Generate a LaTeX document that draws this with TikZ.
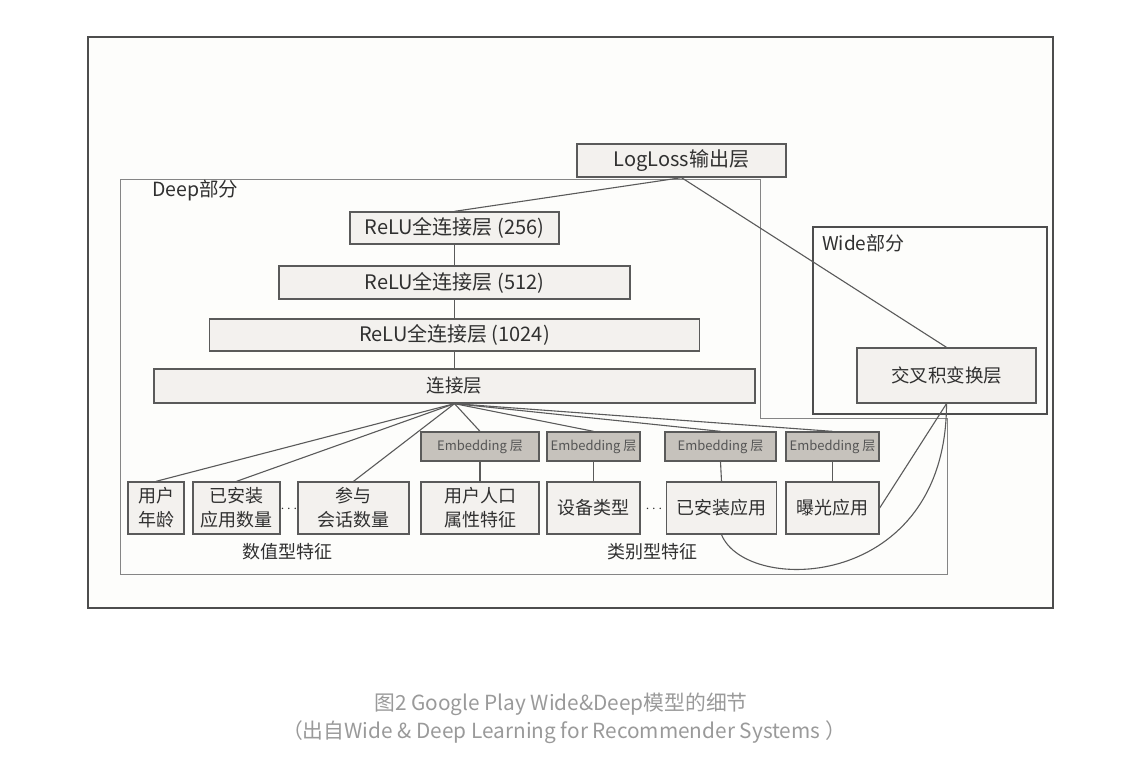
\documentclass[tikz,border=0pt]{standalone}
\usepackage{fontspec}
\setmainfont{Noto Sans CJK SC}
\definecolor{lc}{HTML}{5A5A5A}
\definecolor{boxfill}{HTML}{F3F1EE}
\definecolor{embfill}{HTML}{C6C2BC}
\definecolor{tc}{HTML}{303030}
\definecolor{etc}{HTML}{555555}
\definecolor{framec}{HTML}{4D4D4D}
\definecolor{deepc}{HTML}{858585}
\definecolor{capc}{HTML}{9A9A9A}
\definecolor{bgc}{HTML}{FDFDFB}
\begin{document}
\begin{tikzpicture}[x=1pt,y=-1pt,
  box/.style={draw=lc, fill=boxfill, line width=1.3pt, inner sep=0pt, text=tc,
    font=\fontsize{18}{24}\selectfont, align=center},
  layer/.style={box, font=\fontsize{20}{24}\selectfont},
  emb/.style={draw=lc, fill=embfill, line width=1.3pt, inner sep=0pt, text=etc,
    font=\fontsize{13}{15}\selectfont},
  conn/.style={draw=lc, line width=1.1pt},
  lbl/.style={text=tc, font=\fontsize{18}{20}\selectfont, inner sep=0pt},
  dotlbl/.style={text=tc, font=\fontsize{15}{17}\selectfont, inner sep=0pt},
  captext/.style={text=capc, font=\fontsize{20.8}{24}\selectfont, inner sep=0pt}]
\useasboundingbox (0,0) rectangle (1147,767);
\fill[white] (0,0) rectangle (1147,767);
% outer frame
\draw[draw=framec, line width=2.2pt, fill=bgc] (88,37) rectangle (1053,608);
% deep region
\draw[draw=deepc, line width=1pt] (120,180) -- (760,180) -- (760,418) -- (947,418) -- (947,574) -- (120,574) -- cycle;
% wide region
\draw[draw=framec, line width=2pt] (813,227) rectangle (1047,414);
\node[lbl, anchor=west, font=\fontsize{19.5}{22}\selectfont] (deeplbl) at (152,191) {Deep部分};
\node[lbl, anchor=west, font=\fontsize{19}{22}\selectfont] (widelbl) at (822,243) {Wide部分};
% layers
\node[layer, minimum width=209pt, minimum height=33pt] (log) at (681.5,160.5) {LogLoss输出层};
\node[layer, minimum width=209pt, minimum height=32pt] (r256) at (454.5,228) {ReLU全连接层 (256)};
\node[layer, minimum width=351pt, minimum height=33pt] (r512) at (454.5,282.5) {ReLU全连接层 (512)};
\node[layer, minimum width=490pt, minimum height=32pt] (r1024) at (454.5,335) {ReLU全连接层 (1024)};
\node[box, font=\fontsize{18.5}{24}\selectfont, minimum width=601pt, minimum height=34pt] (concat) at (454.5,386) {连接层};
\node[box, font=\fontsize{18.5}{24}\selectfont, minimum width=179pt, minimum height=55pt] (cross) at (946.5,375.5) {交叉积变换层};
% embeddings
\node[emb, minimum width=118pt, minimum height=29pt] (e1) at (480,446.5) {Embedding 层};
\node[emb, minimum width=93pt, minimum height=29pt] (e2) at (593.5,446.5) {Embedding 层};
\node[emb, minimum width=111pt, minimum height=29pt] (e3) at (720.5,446.5) {Embedding 层};
\node[emb, minimum width=93pt, minimum height=29pt] (e4) at (832.5,446.5) {Embedding 层};
% features
\node[box, minimum width=56pt, minimum height=52pt] (f1) at (156,508) {用户\\年龄};
\node[box, minimum width=87pt, minimum height=52pt] (f2) at (236.5,508) {已安装\\应用数量};
\node[box, minimum width=111pt, minimum height=52pt] (f3) at (353.5,508) {参与\\会话数量};
\node[box, minimum width=118pt, minimum height=52pt] (f4) at (480,508) {用户人口\\属性特征};
\node[box, minimum width=93pt, minimum height=52pt] (f5) at (593.5,508) {设备类型};
\node[box, minimum width=110pt, minimum height=52pt] (f6) at (721.5,508) {已安装应用};
\node[box, minimum width=93pt, minimum height=52pt] (f7) at (832.5,508) {曝光应用};
\node[dotlbl] (dots1) at (289,509) {$\cdots$};
\node[dotlbl] (dots2) at (654,509) {$\cdots$};
\node[lbl] (numlbl) at (287,552) {数值型特征};
\node[lbl] (catlbl) at (652,552) {类别型特征};
% connectors
\draw[conn] (log.south) -- (r256.north);
\draw[conn] (log.south) -- (cross.north);
\draw[conn] (r256.south) -- (r512.north);
\draw[conn] (r512.south) -- (r1024.north);
\draw[conn] (r1024.south) -- (concat.north);
\foreach \t in {f1,f2,f3,e1,e2,e3,e4} \draw[conn] (concat.south) -- (\t.north);
\draw[conn] (e1.south) -- (f4.north);
\draw[conn] (e2.south) -- (f5.north);
\draw[conn] (e3.south) -- (f6.north);
\draw[conn] (e4.south) -- (f7.north);
\draw[conn] (cross.south) -- (f7.east);
\draw[conn] (f6.south) .. controls +(25,61) and +(0,187) .. (cross.south);
% caption
\node[captext] (cap1) at (561,704) {图2 Google Play Wide\&Deep模型的细节};
\node[captext] (cap2) at (564,732) {（出自Wide \& Deep Learning for Recommender Systems ）};
\end{tikzpicture}
\end{document}
